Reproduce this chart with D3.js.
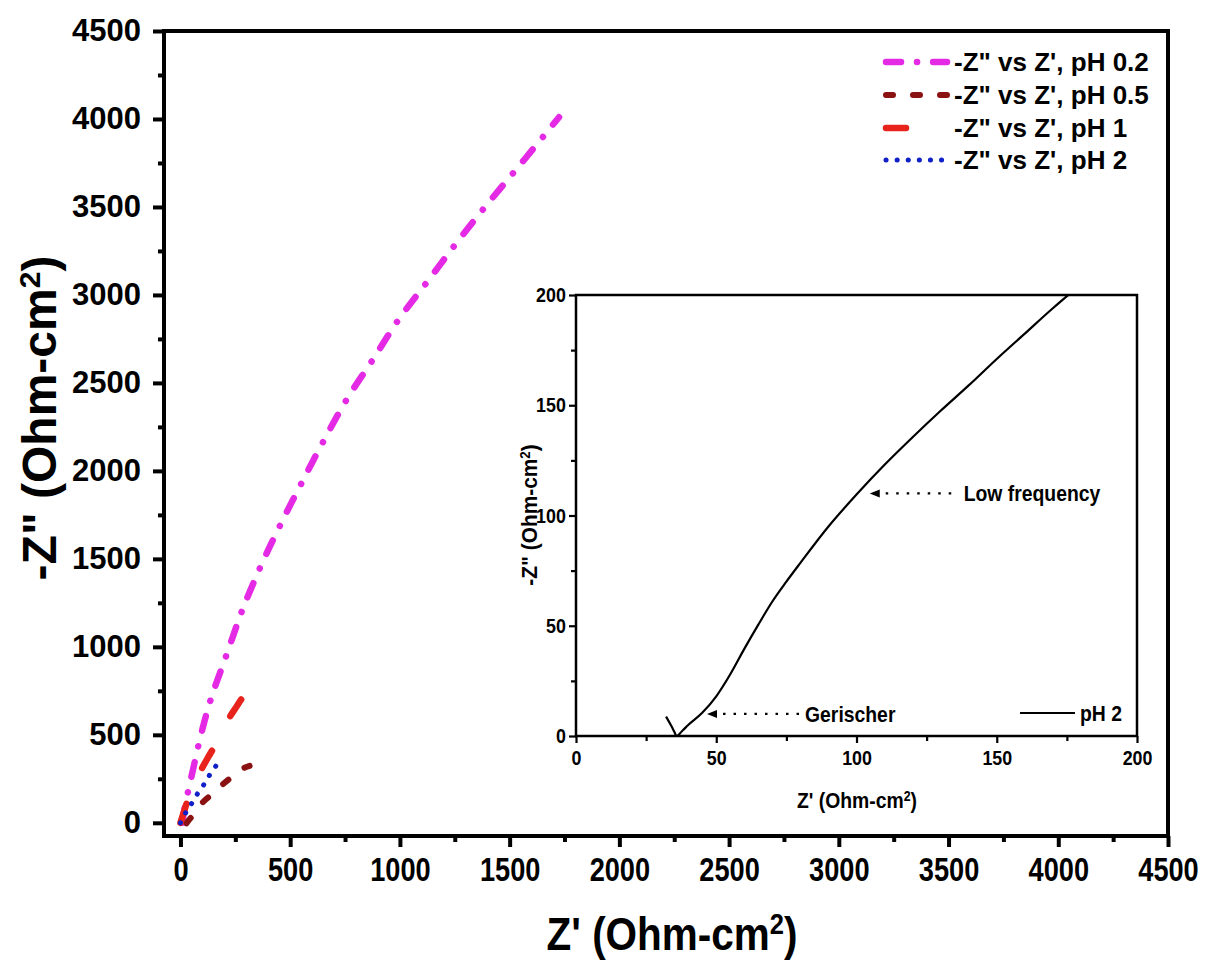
<!DOCTYPE html>
<html><head><meta charset="utf-8">
<script src="https://cdn.jsdelivr.net/npm/d3@7"></script>
<style>
html,body{margin:0;padding:0;background:#fff;}
svg text{font-family:"Liberation Sans",Arial,sans-serif;}
</style></head>
<body><svg id="c" width="1208" height="969"></svg>
<script>
// ---------- data ----------
const seriesNames = ['-Z" vs Z\', pH 0.2', '-Z" vs Z\', pH 0.5', '-Z" vs Z\', pH 1', '-Z" vs Z\', pH 2'];
const seriesColors = ["#e52ae5", "#8b1212", "#e8231c", "#1020c8"];

const pH02_x = [8, 20, 35, 55, 82, 110, 138, 165, 200, 231, 281, 364, 455, 554, 653, 759, 876, 994, 1123, 1252, 1384, 1525, 1659, 1725];
const pH02_y = [0, 90, 180, 290, 441, 580, 701, 800, 920, 1030, 1206, 1453, 1693, 1936, 2172, 2409, 2631, 2860, 3072, 3286, 3494, 3706, 3909, 4010];

const pH05_x = [27, 40, 58, 92, 133, 183, 229, 285, 315];
const pH05_y = [-3, 18, 44, 104, 152, 208, 256, 309, 324];

const pH1_x = [0, 15, 35, 65, 95, 125, 153, 190, 224, 258, 290];
const pH1_y = [0, 60, 133, 220, 303, 370, 430, 515, 600, 665, 728];

const pH2_x = [0, 24, 53, 80, 111, 138, 171];
const pH2_y = [0, 57, 114, 170, 225, 282, 339];

const mainTicks = [0, 500, 1000, 1500, 2000, 2500, 3000, 3500, 4000, 4500];
const mainMinor = [250, 750, 1250, 1750, 2250, 2750, 3250, 3750, 4250];

// inset (pH 2 zoom)
const inset_x = [32.1, 34, 35.2, 35.8, 38, 40, 45, 50, 55, 60, 65, 70, 75, 80, 90, 100, 110, 120, 130, 140, 150, 160, 170, 175.5];
const inset_y = [8.8, 4.5, 1.5, 0, 2.5, 5, 10.5, 18, 28, 39.5, 50.5, 61, 70, 78.5, 95, 109.5, 123, 135.5, 147.5, 159, 171, 182.5, 194, 200];
const insetTicks = [0, 50, 100, 150, 200];
const insetMinor = [25, 75, 125, 175];
const insetLegend = "pH 2";
const annotations = [
  {text: "Low frequency", x: 104, y: 110},
  {text: "Gerischer", x: 46, y: 10}
];

// ---------- drawing ----------
const svg = d3.select("#c");
const x = d3.scaleLinear().domain([-75, 4500]).range([164, 1168]);
const y = d3.scaleLinear().domain([-75, 4500]).range([836, 31]);

const zip = (xs, ys) => xs.map((v, i) => [v, ys[i]]);
const series = [zip(pH02_x, pH02_y), zip(pH05_x, pH05_y), zip(pH1_x, pH1_y), zip(pH2_x, pH2_y)];
const dashes = ["15,16,0.1,16", "7,20", "20,39", "0.1,11"];
const widths = [6.5, 6, 6.5, 5];

const line = d3.line().x(d => x(d[0])).y(d => y(d[1])).curve(d3.curveCatmullRom);

series.forEach((s, i) => {
  svg.append("path").datum(s).attr("d", line)
    .attr("fill", "none").attr("stroke", seriesColors[i]).attr("stroke-width", widths[i])
    .attr("stroke-dasharray", dashes[i]).attr("stroke-linecap", "round");
});

// main axes
const gx = svg.append("g").attr("transform", `translate(0,${y.range()[0]})`);
gx.call(d3.axisBottom(x).tickValues(mainTicks).tickSize(11).tickFormat(d3.format("d")));
const gxm = svg.append("g").attr("transform", `translate(0,${y.range()[0]})`);
gxm.call(d3.axisBottom(x).tickValues(mainMinor).tickSize(6).tickFormat(""));
const gy = svg.append("g").attr("transform", `translate(${x.range()[0]},0)`);
gy.call(d3.axisLeft(y).tickValues(mainTicks).tickSize(11).tickFormat(d3.format("d")));
const gym = svg.append("g").attr("transform", `translate(${x.range()[0]},0)`);
gym.call(d3.axisLeft(y).tickValues(mainMinor).tickSize(6).tickFormat(""));
[gx, gxm, gy, gym].forEach(g => {
  g.select(".domain").remove();
  g.selectAll(".tick line").attr("stroke", "#000").attr("stroke-width", 4);
});
gx.selectAll(".tick text").attr("font-size", 34).attr("font-weight", "bold").attr("fill", "#000")
  .attr("dy", "0.9em").attr("transform", "scale(0.8,1)");
gy.selectAll(".tick text").attr("font-size", 31).attr("font-weight", "bold").attr("fill", "#000").attr("x", -23);

// main frame
svg.append("rect").attr("x", x.range()[0]).attr("y", y.range()[1])
  .attr("width", x.range()[1] - x.range()[0]).attr("height", y.range()[0] - y.range()[1])
  .attr("fill", "none").attr("stroke", "#000").attr("stroke-width", 4);

// main axis titles
const xt = svg.append("text").attr("transform", "translate(672,950) scale(0.88,1)").attr("text-anchor", "middle")
  .attr("font-size", 46).attr("font-weight", "bold");
xt.append("tspan").text("Z' (Ohm-cm");
xt.append("tspan").attr("baseline-shift", "super").attr("font-size", 29).text("2");
xt.append("tspan").text(")");

const yt = svg.append("text").attr("transform", "translate(56,418) rotate(-90)").attr("text-anchor", "middle")
  .attr("font-size", 48).attr("font-weight", "bold");
yt.append("tspan").text('-Z" (Ohm-cm');
yt.append("tspan").attr("baseline-shift", "super").attr("font-size", 30).text("2");
yt.append("tspan").text(")");

// legend
const legY = [62, 95, 128, 160];
const legX2 = [947, 947, 916, 947];
seriesNames.forEach((n, i) => {
  svg.append("line").attr("x1", 886).attr("x2", legX2[i]).attr("y1", legY[i]).attr("y2", legY[i])
    .attr("stroke", seriesColors[i]).attr("stroke-width", widths[i]).attr("stroke-dasharray", dashes[i])
    .attr("stroke-linecap", "round");
  svg.append("text").attr("x", 954).attr("y", legY[i]).attr("dy", "0.36em")
    .attr("font-size", 26).attr("font-weight", "bold").text(n);
});

// ---------- inset ----------
const ix = d3.scaleLinear().domain([0, 200]).range([576, 1137]);
const iy = d3.scaleLinear().domain([0, 200]).range([736, 295]);
const iline = d3.line().x(d => ix(d[0])).y(d => iy(d[1])).curve(d3.curveMonotoneX);
svg.append("path").datum(zip(inset_x, inset_y)).attr("d", iline)
  .attr("fill", "none").attr("stroke", "#000").attr("stroke-width", 2.2);

const igx = svg.append("g").attr("transform", `translate(0,${iy.range()[0]})`)
  .call(d3.axisBottom(ix).tickValues(insetTicks).tickSize(7).tickFormat(d3.format("d")));
const igxm = svg.append("g").attr("transform", `translate(0,${iy.range()[0]})`)
  .call(d3.axisBottom(ix).tickValues(insetMinor).tickSize(5).tickFormat(""));
const igy = svg.append("g").attr("transform", `translate(${ix.range()[0]},0)`)
  .call(d3.axisLeft(iy).tickValues(insetTicks).tickSize(7).tickFormat(d3.format("d")));
const igym = svg.append("g").attr("transform", `translate(${ix.range()[0]},0)`)
  .call(d3.axisLeft(iy).tickValues(insetMinor).tickSize(5).tickFormat(""));
[igx, igxm, igy, igym].forEach(g => {
  g.select(".domain").remove();
  g.selectAll(".tick line").attr("stroke", "#000").attr("stroke-width", 2.2);
});
igx.selectAll(".tick text").attr("font-size", 21).attr("font-weight", "bold").attr("fill", "#000").attr("dy", "0.9em").attr("transform", "scale(0.85,1)");
igy.selectAll(".tick text").attr("font-size", 21).attr("font-weight", "bold").attr("fill", "#000").attr("x", -12).attr("transform", "scale(0.85,1)");

svg.append("rect").attr("x", ix.range()[0]).attr("y", iy.range()[1])
  .attr("width", ix.range()[1] - ix.range()[0]).attr("height", iy.range()[0] - iy.range()[1])
  .attr("fill", "none").attr("stroke", "#000").attr("stroke-width", 2.5);

const ixt = svg.append("text").attr("transform", "translate(857,808) scale(0.88,1)").attr("text-anchor", "middle")
  .attr("font-size", 22).attr("font-weight", "bold");
ixt.append("tspan").text("Z' (Ohm-cm");
ixt.append("tspan").attr("baseline-shift", "super").attr("font-size", 14).text("2");
ixt.append("tspan").text(")");
const iyt = svg.append("text").attr("transform", "translate(537,515) rotate(-90) scale(0.95,1)").attr("text-anchor", "middle")
  .attr("font-size", 22).attr("font-weight", "bold");
iyt.append("tspan").text('-Z" (Ohm-cm');
iyt.append("tspan").attr("baseline-shift", "super").attr("font-size", 14).text("2");
iyt.append("tspan").text(")");

// annotations
const annLen = [88, 92];
annotations.forEach((a, i) => {
  const px = ix(a.x) + 2, py = iy(a.y);
  svg.append("path").attr("d", `M${px},${py} l10,-4 l0,8 z`).attr("fill", "#000");
  svg.append("line").attr("x1", px + 16).attr("x2", px + annLen[i]).attr("y1", py).attr("y2", py)
    .attr("stroke", "#000").attr("stroke-width", 2.2).attr("stroke-dasharray", "2.5,8");
  svg.append("text").attr("transform", `translate(${px + annLen[i] + 6},${py}) scale(0.88,1)`).attr("dy", "0.36em")
    .attr("font-size", 22).attr("font-weight", "bold").text(a.text);
});

// inset legend
svg.append("line").attr("x1", 1020).attr("x2", 1075).attr("y1", 713).attr("y2", 713)
  .attr("stroke", "#000").attr("stroke-width", 2.2);
svg.append("text").attr("transform", "translate(1080,713) scale(0.88,1)").attr("dy", "0.36em")
  .attr("font-size", 22).attr("font-weight", "bold").text(insetLegend);
</script></body></html>
